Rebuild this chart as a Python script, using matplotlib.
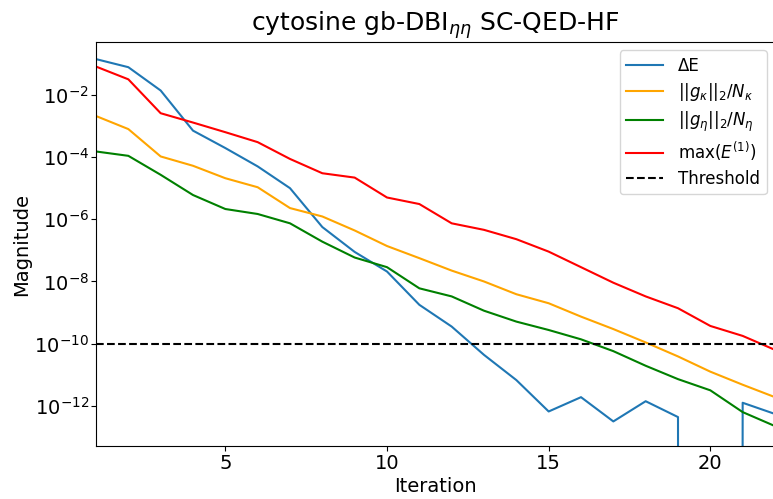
import numpy as np
import matplotlib
matplotlib.use("Agg")
import matplotlib.pyplot as plt

# -----------------------------
# Daten (log10-Werte)
# -----------------------------
iterations = np.arange(1, 23)

log_dE = [-0.85, -1.11, -1.86, -3.15, -3.71, -4.30, -5.00, -6.25, -7.05, -7.68,
          -8.75, -9.45, -10.36, -11.17, -12.18, -11.72, -12.50, -11.85, -12.36,
          None, -11.90, -12.26]
log_gk = [-2.68, -3.10, -3.98, -4.28, -4.68, -4.97, -5.64, -5.91, -6.36, -6.86,
          -7.25, -7.65, -8.00, -8.41, -8.70, -9.13, -9.53, -9.96, -10.41, -10.90,
          -11.32, -11.72]
log_ge = [-3.82, -3.96, -4.57, -5.22, -5.67, -5.83, -6.13, -6.72, -7.23, -7.54,
          -8.22, -8.48, -8.94, -9.29, -9.56, -9.86, -10.24, -10.71, -11.14, -11.50,
          -12.20, -12.65]
log_maxE = [-1.09, -1.50, -2.59, -2.89, -3.20, -3.52, -4.06, -4.52, -4.66, -5.30,
            -5.51, -6.13, -6.34, -6.64, -7.04, -7.54, -8.04, -8.48, -8.86, -9.43,
            -9.75, -10.20]
threshold = 1e-10

# ΔE = 0 in Iteration 20 (auf log-Achse abgeschnitten)
dE = np.array([0.0 if v is None else 10.0 ** v for v in log_dE])
gk = 10.0 ** np.array(log_gk)
ge = 10.0 ** np.array(log_ge)
maxE = 10.0 ** np.array(log_maxE)

# -----------------------------
# Plot
# -----------------------------
fig = plt.figure(figsize=(7.73, 4.99), dpi=100)
ax = fig.add_axes([96 / 773, 53 / 499, 679 / 773, 404 / 499])

ax.plot(iterations, dE, color="tab:blue", lw=1.5, label="ΔE")
ax.plot(iterations, gk, color="orange", lw=1.5, label=r"$||g_\kappa||_2/N_\kappa$")
ax.plot(iterations, ge, color="green", lw=1.5, label=r"$||g_\eta||_2/N_\eta$")
ax.plot(iterations, maxE, color="red", lw=1.5, label=r"max($E^{(1)}$)")
ax.axhline(threshold, color="black", ls="--", lw=1.5, label="Threshold")

ax.set_yscale("log")
ax.set_xlim(1, 22)
ax.set_ylim(10 ** -13.29, 10 ** -0.30)
ax.set_yticks([1e-2, 1e-4, 1e-6, 1e-8, 1e-10, 1e-12])
ax.minorticks_off()
ax.set_xticks([5, 10, 15, 20])
ax.tick_params(labelsize=14)
ax.tick_params(axis="y", pad=1.5)
ax.tick_params(axis="x", pad=2.5)

ax.set_xlabel("Iteration", fontsize=14, labelpad=3)
ax.set_ylabel("Magnitude", fontsize=14, labelpad=2.5)
ax.set_title(r"cytosine gb-DBI$_{\eta\eta}$ SC-QED-HF", fontsize=18, pad=8)
ax.legend(fontsize=12, loc="upper right", labelspacing=0.38,
          handlelength=2.2, handletextpad=0.9)

fig.savefig("out.png", dpi=100)
